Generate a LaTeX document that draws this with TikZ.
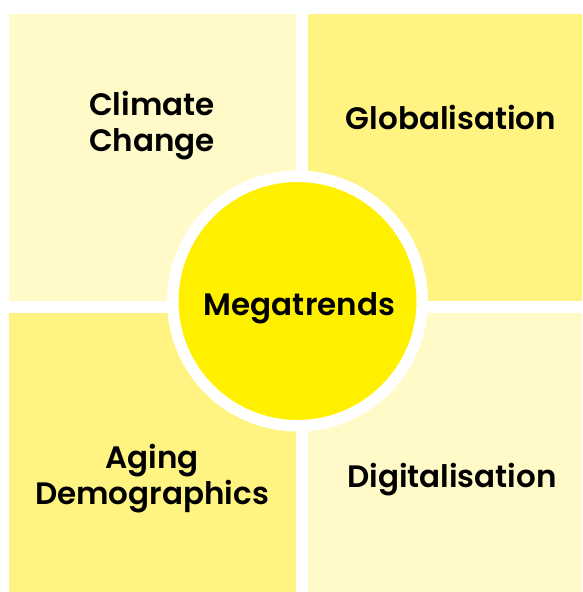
\documentclass[tikz,border=0pt]{standalone}
\usepackage{fontspec}
\setmainfont{Poppins}[BoldFont={Poppins SemiBold}]
\definecolor{palequad}{RGB}{255,250,200}
\definecolor{midquad}{RGB}{255,244,130}
\definecolor{hubyellow}{RGB}{255,240,0}
\tikzset{
  quad/.style={rectangle, inner sep=0pt, outer sep=0pt, minimum width=287pt, minimum height=287pt, draw=none},
  lbl/.style={font=\fontsize{31}{36}\selectfont\bfseries, align=center, inner sep=0pt, text=black},
  hub/.style={circle, fill=hubyellow, draw=white, line width=11.5pt, inner sep=0pt, outer sep=0pt, minimum size=249.5pt}
}
\begin{document}
\begin{tikzpicture}[x=1pt,y=-1pt]
\useasboundingbox (0,0) rectangle (582,592);
\fill[white] (0,0) rectangle (582,592);
\begin{scope}
\clip (0,0) rectangle (582,592);
\node[quad, fill=palequad, anchor=north west] (tl) at (9,14) {};
\node[quad, fill=midquad, anchor=north west] (tr) at (308,14) {};
\node[quad, fill=midquad, anchor=north west] (bl) at (9,313) {};
\node[quad, fill=palequad, anchor=north west] (br) at (308,313) {};
\end{scope}
\node[hub] (hub) at (297.5,301) {};
\node[lbl, anchor=base] (hubtxt) at (299.5,315.5) {Megatrends};
\node[lbl, anchor=base] (gl) at (451,129.5) {Globalisation};
\node[lbl, anchor=base] (dg) at (452,487.5) {Digitalisation};
\node[lbl, anchor=base] (cc1) at (152,115) {Climate};
\node[lbl, anchor=base] (cc2) at (152,151.5) {Change};
\node[lbl, anchor=base] (ad1) at (152,468) {Aging};
\node[lbl, anchor=base] (ad2) at (152,504) {Demographics};
\end{tikzpicture}
\end{document}
